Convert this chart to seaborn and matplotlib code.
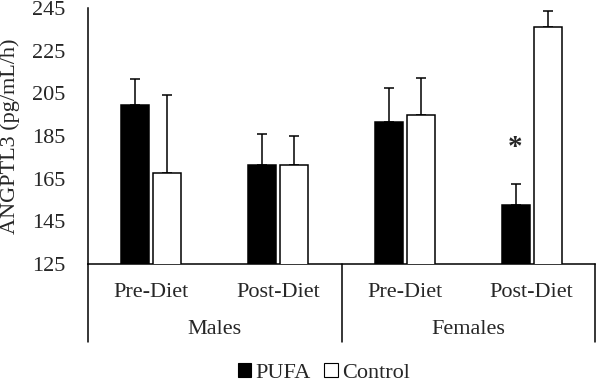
import matplotlib
matplotlib.use("Agg")
import matplotlib.pyplot as plt
import seaborn as sns
import pandas as pd
from matplotlib.patches import Patch
import matplotlib.transforms as mtransforms

# ---- data ----
conditions = ["Males Pre-Diet", "Males Post-Diet", "Females Pre-Diet", "Females Post-Diet"]
tick_labels = ["Pre-Diet", "Post-Diet", "Pre-Diet", "Post-Diet"]
sex_groups = ["Males", "Females"]
pufa_values = [199.7, 171.4, 191.7, 152.8]
pufa_errors = [12.2, 14.5, 15.8, 9.8]
control_values = [167.7, 171.4, 195.0, 235.9]
control_errors = [36.5, 13.4, 17.0, 7.7]
series = ["PUFA", "Control"]
star_index = 3
star_value = 179.7

sns.set_theme(style="white")
plt.rcParams["font.family"] = ["Liberation Serif", "DejaVu Serif"]
FS = 16

df = pd.DataFrame({
    "cond": conditions * 2,
    "group": ["PUFA"] * 4 + ["Control"] * 4,
    "value": pufa_values + control_values,
    "err": pufa_errors + control_errors,
})

fig = plt.figure(figsize=(5.96, 3.84), dpi=100)
ax = fig.add_axes([88 / 596, 1 - 264 / 384, (595 - 88) / 596, (264 - 8) / 384])

sns.barplot(data=df, x="cond", y="value", hue="group", order=conditions,
            hue_order=series, palette={"PUFA": "black", "Control": "white"},
            edgecolor="black", linewidth=1.1, width=0.506, gap=0.13,
            errorbar=None, legend=False, ax=ax, zorder=3)

# error bars from bar positions
for container, errs in zip(ax.containers, [pufa_errors, control_errors]):
    for patch, e in zip(container.patches, errs):
        xc = patch.get_x() + patch.get_width() / 2
        top = patch.get_height() + patch.get_y()
        ax.errorbar([xc], [top], yerr=[[0], [e]], fmt="none", ecolor="black",
                    elinewidth=1.1, capsize=3.3, capthick=1.1, zorder=2)

ax.set_ylim(125, 245)
ax.set_yticks(range(125, 246, 20))
ax.set_xlim(-0.5, 3.5)
ax.tick_params(axis="y", labelsize=FS, length=0, pad=16)
ax.set_xticks(range(4))
ax.set_xticklabels(tick_labels, fontsize=FS)
ax.tick_params(axis="x", length=0, pad=14)
ax.set_xlabel("")
ax.set_ylabel("ANGPTL3 (pg/mL/h)", fontsize=FS)
ax.yaxis.set_label_coords(-0.135, 0.5)

for s in ["top", "right"]:
    ax.spines[s].set_visible(False)
for s in ["left", "bottom"]:
    ax.spines[s].set_color("black")
    ax.spines[s].set_linewidth(1.1)

# group labels and separators
trans = mtransforms.blended_transform_factory(ax.transData, ax.transAxes)
depth = (342 - 264) / 256
for xs in [-0.5, 1.5, 3.5]:
    ax.plot([xs, xs], [0, -depth], color="black", lw=1.1, transform=trans, clip_on=False)
for i, g in enumerate(sex_groups):
    ax.text(2 * i + 0.5, -(330 - 264) / 256, g, transform=trans, ha="center",
            va="center", fontsize=FS)

# asterisk
p = ax.containers[0].patches[star_index]
star_x = p.get_x() + p.get_width() / 2
ax.text(star_x, star_value, "*", ha="center", va="center", fontsize=21, fontweight="bold")

handles = [Patch(facecolor="black", edgecolor="black", lw=0.8, label="PUFA"),
           Patch(facecolor="white", edgecolor="black", lw=0.8, label="Control")]
fig.legend(handles=handles, loc="center", bbox_to_anchor=(324 / 596, 1 - 373 / 384),
           ncol=2, frameon=False, fontsize=FS, handlelength=0.6, handleheight=0.6,
           handletextpad=0.2, columnspacing=0.6, borderaxespad=0, borderpad=0)

fig.savefig("out.png", dpi=100)
